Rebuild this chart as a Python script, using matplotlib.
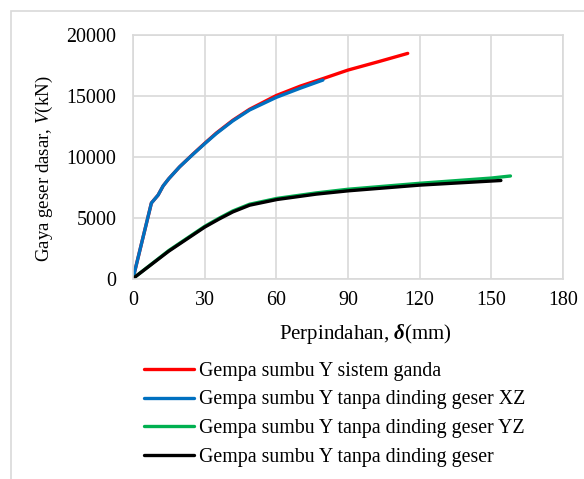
import matplotlib
matplotlib.use("Agg")
import matplotlib.pyplot as plt
from matplotlib.patches import Rectangle

# Data (displacement mm, base shear kN)
x_ganda = [0, 7.7, 10.5, 12.6, 15, 19.5, 25, 30, 34.9, 41.8, 48.8, 60, 70, 80, 90, 102.6, 115]
v_ganda = [0, 6200, 6850, 7600, 8200, 9170, 10200, 11100, 11950, 13000, 13900, 15030, 15800, 16450, 17120, 17800, 18490]

x_xz = [0, 7.7, 10.5, 12.6, 15, 19.5, 25, 30, 34.9, 41.8, 48.8, 60, 70, 79.5]
v_xz = [0, 6200, 6850, 7600, 8200, 9170, 10180, 11070, 11910, 12950, 13840, 14880, 15630, 16300]

x_yz = [0, 15, 30, 36, 41.8, 48.8, 60.3, 76.7, 90, 120, 150, 158]
v_yz = [0, 2300, 4280, 4950, 5550, 6100, 6580, 7030, 7330, 7820, 8250, 8420]

x_tanpa = [0, 15, 30, 36, 41.8, 48.8, 60.3, 76.7, 90, 120, 154]
v_tanpa = [0, 2250, 4220, 4880, 5470, 6020, 6490, 6930, 7200, 7670, 8050]

labels = ["Gempa sumbu Y sistem ganda",
          "Gempa sumbu Y tanpa dinding geser XZ",
          "Gempa sumbu Y tanpa dinding geser YZ",
          "Gempa sumbu Y tanpa dinding geser"]
colors = ["#ff0000", "#0070c0", "#00b050", "#000000"]

xticks = [0, 30, 60, 90, 120, 150, 180]
yticks = [0, 5000, 10000, 15000, 20000]

plt.rcParams['font.family'] = ['Liberation Serif', 'DejaVu Serif']
plt.rcParams['mathtext.fontset'] = 'custom'
plt.rcParams['mathtext.rm'] = 'Liberation Serif'
plt.rcParams['mathtext.it'] = 'Liberation Serif:italic'
plt.rcParams['mathtext.bf'] = 'Liberation Serif:italic:bold'

fig = plt.figure(figsize=(5.84, 4.79), dpi=100)
fig.patches.append(Rectangle((11/584, -0.05), 1.2, (479-11)/479 + 0.05,
                             transform=fig.transFigure, fill=False,
                             edgecolor="#d9d9d9", linewidth=1.2, zorder=0))

ax = fig.add_axes([133/584, 1 - 278.5/479, (563-133)/584, (278.5-35)/479])

series = [(x_ganda, v_ganda), (x_xz, v_xz), (x_yz, v_yz), (x_tanpa, v_tanpa)]
for (xs, vs), lab, c in zip(series, labels, colors):
    ax.plot(xs, vs, color=c, lw=2.4, label=lab, solid_capstyle='round',
            solid_joinstyle='round')

ax.set_xlim(0, 180)
ax.set_ylim(0, 20000)
ax.set_xticks(xticks)
ax.set_yticks(yticks)
ax.tick_params(length=0, labelsize=14.4)
ax.tick_params(axis='y', pad=12)
ax.tick_params(axis='x', pad=9)
ax.grid(True, color="#d9d9d9", lw=1.2)
ax.set_axisbelow(True)
for s in ax.spines.values():
    s.set_color("#d9d9d9")
    s.set_linewidth(1.2)

ax.set_xlabel(r"Perpindahan, $\mathbf{\delta}$(mm)", fontsize=15)
ax.xaxis.set_label_coords(0.54, -0.18)
ax.set_ylabel(r"Gaya geser dasar, $\mathit{V}$(kN)", fontsize=13.6)
ax.yaxis.set_label_coords(-0.181, 0.45)

handles, labs = ax.get_legend_handles_labels()
fig.legend(handles, labs, loc='upper left', bbox_to_anchor=(136/584, 1 - 354/479),
           frameon=False, fontsize=14.3, handlelength=2.5, handletextpad=0.25,
           labelspacing=0.48, borderaxespad=0)

fig.savefig("out.png", dpi=100)
